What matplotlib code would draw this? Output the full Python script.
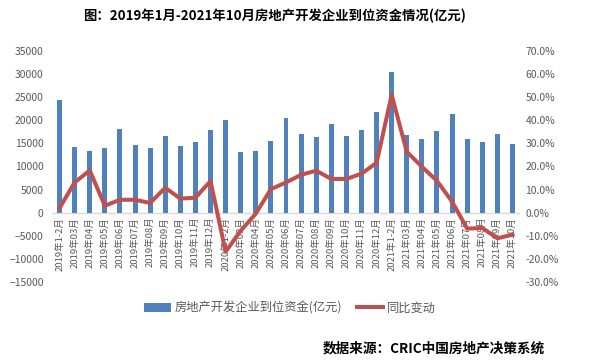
import matplotlib.pyplot as plt
import numpy as np

plt.rcParams['font.family'] = ['Noto Sans CJK SC', 'DejaVu Sans']

# months
labels = ['2019年1-2月'] + ['2019年%02d月' % m for m in range(3, 13)] \
    + ['2020年1-2月'] + ['2020年%02d月' % m for m in range(3, 13)] \
    + ['2021年1-2月'] + ['2021年%02d月' % m for m in range(3, 11)]

# 到位资金 (亿元)
funds = [24450, 14270, 13400, 14050, 18150, 14700, 13900, 16640, 14480, 15350, 17940,
         20100, 13190, 13400, 15560, 20530, 17070, 16430, 19240, 16640, 17940, 21830,
         30480, 16860, 15990, 17720, 21400, 15990, 15350, 17070, 14910]

# 同比变动 (%)
yoy = [2.0, 13.1, 18.3, 3.0, 5.6, 5.6, 4.2, 10.8, 6.1, 6.5, 13.7,
       -16.9, -7.8, -0.4, 10.2, 13.1, 16.4, 18.2, 14.6, 14.6, 16.9, 21.6,
       51.0, 26.4, 19.9, 13.8, 4.8, -6.9, -6.6, -11.1, -9.5]

blue = '#4F81BD'
red = '#C0504D'
grey = '#595959'

fig = plt.figure(figsize=(6.01, 3.6), dpi=100)
ax = fig.add_axes([52 / 601, 1 - 282 / 360, 468 / 601, 231 / 360])
ax2 = ax.twinx()

x = np.arange(len(labels))
b = ax.bar(x, funds, width=0.33, color=blue, label='房地产开发企业到位资金(亿元)', zorder=2)
l, = ax2.plot(x, yoy, color=red, lw=2.9, label='同比变动', zorder=3)

ax.set_xlim(-0.5, len(labels) - 0.5)
ax.set_ylim(-15000, 35000)
ax.set_yticks(range(-15000, 35001, 5000))
ax2.set_ylim(-30, 70)
ax2.set_yticks(range(-30, 71, 10))
ax2.set_yticklabels(['%.1f%%' % v for v in range(-30, 71, 10)])

for a in (ax, ax2):
    for s in a.spines.values():
        s.set_visible(False)
    a.tick_params(length=0, labelsize=7.5, labelcolor=grey)
ax.tick_params(axis='y', pad=6)
ax2.tick_params(axis='y', pad=4)
ax.set_xticks([])
ax.axhline(0, color='#D9D9D9', lw=1, zorder=1)

for i, t in enumerate(labels):
    ax.annotate(t, xy=(i, 0), xytext=(0, -3), textcoords='offset points',
                rotation=90, ha='center', va='top', fontsize=6.8, color=grey)

ax2.set_zorder(ax.get_zorder() + 1)
ax2.patch.set_visible(False)

fig.legend([b, l], ['房地产开发企业到位资金(亿元)', '同比变动'], loc='center',
           bbox_to_anchor=(290 / 601, 1 - 308 / 360), ncol=2, frameon=False,
           fontsize=8.8, labelcolor=grey, handlelength=2.2, handletextpad=0.3,
           columnspacing=1.2)

fig.text(274 / 601, 1 - 16 / 360, '图：2019年1月-2021年10月房地产开发企业到位资金情况(亿元)',
         ha='center', va='center', fontsize=9.6, fontweight='bold')
fig.text(545 / 601, 1 - 348 / 360, '数据来源：CRIC中国房地产决策系统',
         ha='right', va='center', fontsize=9.8, fontweight='bold')

fig.savefig('out.png', dpi=100)
